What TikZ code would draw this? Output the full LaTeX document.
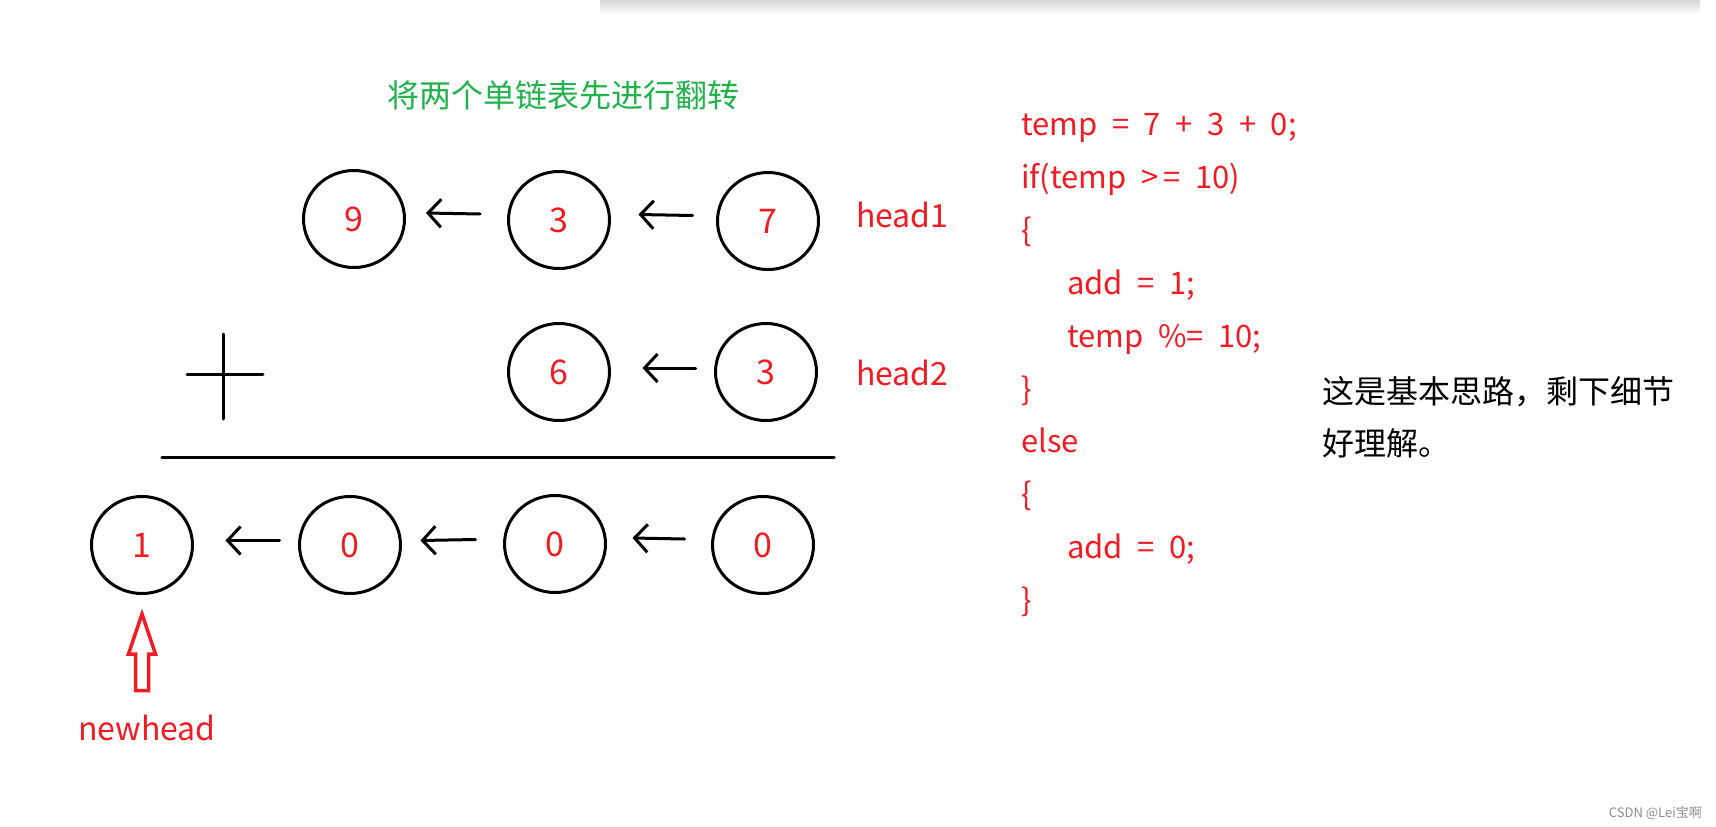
\documentclass[tikz,border=0pt]{standalone}
\usepackage{fontspec}
\setmainfont{Noto Sans CJK SC}
\usetikzlibrary{shapes.geometric,arrows.meta}
\definecolor{pred}{RGB}{240,28,36}
\definecolor{pgreen}{RGB}{34,177,76}
\newcommand\mycodefont{\fontsize{31}{37}\selectfont\spaceskip 0.47em\relax}
\begin{document}
\begin{tikzpicture}[x=1pt,y=-1pt,
  listnode/.style={ellipse,draw=black,line width=3pt,minimum width=101pt,minimum height=97pt,inner sep=0pt,text=pred,font=\fontsize{34}{40}\selectfont},
  larr/.style={line width=3pt,line cap=round,-{Straight Barb[length=13pt,width=28pt]}},
  redtxt/.style={text=pred,font=\fontsize{32}{38}\selectfont,inner sep=0pt,anchor=base west},
  codeln/.style={text=pred,font=\mycodefont,inner sep=0pt,anchor=base west},
  blktxt/.style={text=black,font=\fontsize{32}{38}\selectfont,inner sep=0pt,anchor=base west},
  stroke/.style={line width=3pt,line cap=round}]
\useasboundingbox (0,0) rectangle (1716,827);
% top shadow
\shade[top color=black!16,bottom color=white] (600,0) rectangle (1700,14);

% title
\node[anchor=base,text=pgreen,font=\fontsize{32}{38}\selectfont,inner sep=0pt] (title) at (563,107) {将两个单链表先进行翻转};

% row 1
\node[listnode] (a9) at (354,219) {9};
\node[listnode] (a3) at (559,220) {3};
\node[listnode] (a7) at (768,221) {7};
\draw[larr] ([shift={(-27,-6)}]a3.west) -- ([shift={(20,-6)}]a9.east);
\draw[larr] ([shift={(-23.5,-5.5)}]a7.west) -- ([shift={(27.5,-5.5)}]a3.east);
\node[redtxt] (h1) at (856,227) {head1};

% row 2
\draw[stroke] (223,334) -- (223,419);
\draw[stroke] (187,374) -- (263,374);
\node[listnode] (b6) at (559,372) {6};
\node[listnode] (b3) at (766,372) {3};
\draw[larr] ([shift={(-18.5,-4)}]b3.west) -- ([shift={(31.5,-4)}]b6.east);
\node[redtxt] (h2) at (856,385) {head2};

% sum line
\draw[line width=3.5pt,line cap=round] (162,457.5) -- (834,457.5);

% row 3
\node[listnode] (c1) at (142,545) {1};
\node[listnode] (c0a) at (350,545) {0};
\node[listnode] (c0b) at (555,544) {0};
\node[listnode] (c0c) at (763,545) {0};
\draw[larr] ([shift={(-18.5,-4.5)}]c0a.west) -- ([shift={(31.5,-4.5)}]c1.east);
\draw[larr] ([shift={(-27.5,-4.5)}]c0b.west) -- ([shift={(18.5,-4.5)}]c0a.east);
\draw[larr] ([shift={(-26.5,-6)}]c0c.west) -- ([shift={(25.5,-6)}]c0b.east);

% newhead hollow arrow
\draw[pred,line width=3.5pt,line join=miter] (142,614) -- (155.5,654) -- (148.5,654) -- (148.5,690.5) -- (135.5,690.5) -- (135.5,654) -- (128.5,654) -- cycle;
\node[redtxt] (nh) at (78,740) {newhead};

% code
\node[codeln] (l1) at (1021,135) {temp = 7 + 3 + 0;};
\node[codeln] (l2) at (1021,188) {if(temp >\kern5pt= 10)};
\node[codeln] (l3) at (1021,241) {\{};
\node[codeln] (l4) at (1067,294) {add = 1;};
\node[codeln] (l5) at (1067,347) {temp \%= 10;};
\node[codeln] (l6) at (1021,400) {\}};
\node[codeln] (l7) at (1021,452) {else};
\node[codeln] (l8) at (1021,505) {\{};
\node[codeln] (l9) at (1067,558) {add = 0;};
\node[codeln] (l10) at (1021,611) {\}};

% comment
\node[blktxt] (n1) at (1322,403) {这是基本思路，剩下细节};
\node[blktxt] (n2) at (1322,455) {好理解。};

% watermark
\node[anchor=east,text=black!45,font=\fontsize{13}{15}\selectfont,inner sep=0pt] (wm) at (1702,813) {CSDN @Lei宝啊};
\end{tikzpicture}
\end{document}
